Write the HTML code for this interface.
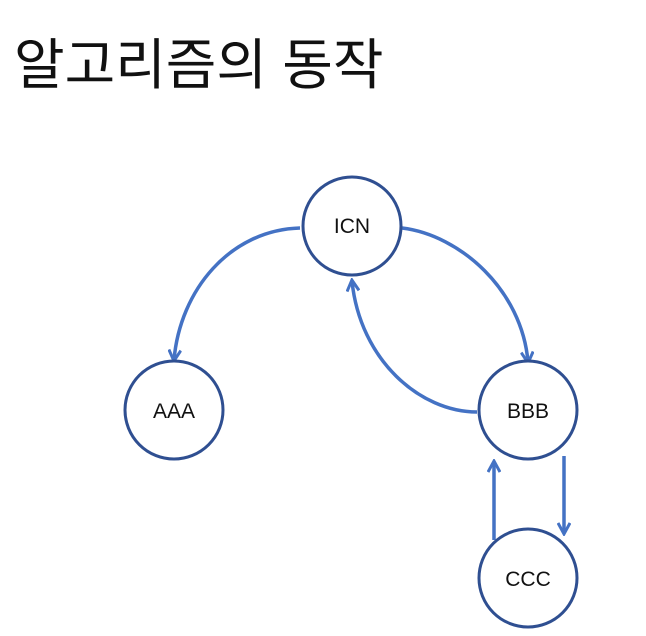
<!DOCTYPE html>
<html><head><meta charset="utf-8"><style>
html,body{margin:0;padding:0;background:#fff;width:646px;height:636px;overflow:hidden}
</style></head><body>
<svg width="646" height="636" xmlns="http://www.w3.org/2000/svg">
<defs>
<marker id="a" markerWidth="14" markerHeight="14" refX="11" refY="7" orient="auto" markerUnits="userSpaceOnUse">
<path d="M1,1 L12,7 L1,13" fill="none" stroke="#4472C4" stroke-width="3"/>
</marker>
</defs>
<text x="14" y="84" font-family="'Liberation Sans','Noto Sans CJK KR',sans-serif" font-size="55" fill="#111">알고리즘의 동작</text>
<g fill="none" stroke="#4472C4" stroke-width="3.5">
<path d="M300,228 C230,230 180,290 174,360" marker-end="url(#a)"/>
<path d="M402,228 C460,235 522,290 528,362" marker-end="url(#a)"/>
<path d="M477,412 C420,412 360,360 352,281" marker-end="url(#a)"/>
<path d="M564,456 L564,533" marker-end="url(#a)"/>
<path d="M494,540 L494,462" marker-end="url(#a)"/>
</g>
<g fill="#fff" stroke="#2F4F91" stroke-width="3">
<circle cx="352" cy="226" r="49"/>
<circle cx="174" cy="410" r="49"/>
<circle cx="528" cy="410" r="49"/>
<circle cx="528" cy="578" r="49"/>
</g>
<g font-family="'Liberation Sans',sans-serif" font-size="21" fill="#111" text-anchor="middle">
<text x="352" y="233">ICN</text>
<text x="174" y="418">AAA</text>
<text x="528" y="418">BBB</text>
<text x="528" y="586">CCC</text>
</g>
</svg>
</body></html>
